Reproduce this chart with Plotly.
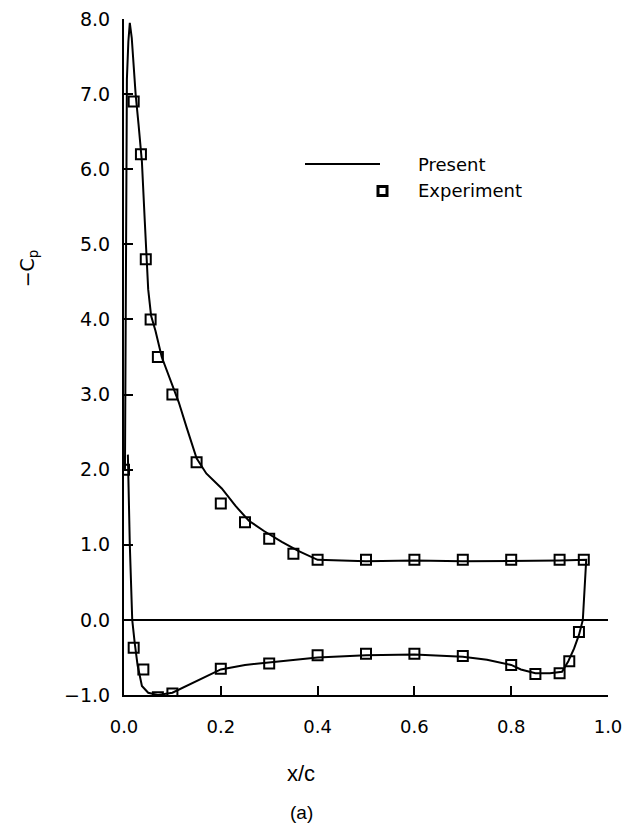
import plotly.graph_objects as go

# Present (computed) -Cp, drawn as one loop: leading edge up to suction peak,
# along upper surface, down the trailing edge, back along lower surface.
present_x = [0.002, 0.003, 0.004, 0.006, 0.009, 0.012, 0.016, 0.020, 0.024, 0.030, 0.037,
             0.043, 0.050, 0.056, 0.065, 0.078, 0.095, 0.113, 0.130, 0.150, 0.170,
             0.190, 0.202, 0.230, 0.258, 0.290, 0.326, 0.360, 0.388, 0.400,
             0.500, 0.600, 0.700, 0.800, 0.900, 0.955,
             0.948, 0.940, 0.930, 0.918, 0.905, 0.880, 0.850, 0.820, 0.800, 0.750,
             0.700, 0.600, 0.500, 0.400, 0.300, 0.250, 0.200, 0.150, 0.100, 0.070,
             0.050, 0.037, 0.028, 0.022, 0.017, 0.012, 0.008]
present_y = [2.0, 4.0, 5.8, 7.2, 7.7, 7.95, 7.75, 7.35, 7.0, 6.6, 6.1,
             5.3, 4.4, 4.05, 3.85, 3.5, 3.2, 2.9, 2.55, 2.15, 1.95,
             1.82, 1.75, 1.52, 1.32, 1.18, 1.04, 0.92, 0.83, 0.80,
             0.78, 0.79, 0.78, 0.78, 0.79, 0.80,
             0.00, -0.20, -0.38, -0.55, -0.69, -0.71, -0.71, -0.66, -0.60, -0.53,
             -0.49, -0.46, -0.47, -0.50, -0.57, -0.60, -0.66, -0.82, -0.97, -1.00,
             -0.97, -0.88, -0.60, -0.30, 0.00, 1.00, 2.20]

# Experiment -Cp
exp_x = [0.0, 0.02, 0.035, 0.045, 0.055, 0.07, 0.10, 0.15, 0.20, 0.25, 0.30, 0.35, 0.40,
         0.50, 0.60, 0.70, 0.80, 0.90, 0.95,
         0.02, 0.04, 0.07, 0.10, 0.20, 0.30, 0.40, 0.50, 0.60, 0.70, 0.80, 0.85,
         0.90, 0.92, 0.94]
exp_y = [2.0, 6.9, 6.2, 4.8, 4.0, 3.5, 3.0, 2.1, 1.55, 1.3, 1.08, 0.88, 0.80,
         0.80, 0.80, 0.80, 0.80, 0.80, 0.80,
         -0.37, -0.66, -1.03, -0.98, -0.65, -0.58, -0.47, -0.45, -0.45, -0.48, -0.60, -0.72,
         -0.71, -0.55, -0.16]

x_ticks = [0.0, 0.2, 0.4, 0.6, 0.8, 1.0]
y_ticks = [-1, 0, 1, 2, 3, 4, 5, 6, 7, 8]

font_main = "DejaVu Sans, Liberation Sans, sans-serif"
font_title = "Liberation Sans, Arial, sans-serif"

fig = go.Figure()
fig.add_trace(go.Scatter(x=present_x, y=present_y, mode="lines",
                         line=dict(color="black", width=2), name="Present",
                         showlegend=False))
fig.add_trace(go.Scatter(x=exp_x, y=exp_y, mode="markers",
                         marker=dict(symbol="square-open", size=10, color="black",
                                     line=dict(width=2, color="black")),
                         name="Experiment", showlegend=False))

# page body has an 8px margin: figure is 614x822 so the page is exactly 630x838
fig.update_layout(
    width=614, height=822,
    margin=dict(l=116, r=14, t=11, b=135, autoexpand=False),
    paper_bgcolor="white", plot_bgcolor="white",
    showlegend=False,
    font=dict(family=font_main, size=18, color="black"),
    xaxis=dict(range=[0, 1.0], tickvals=x_ticks, tickformat=".1f",
               ticks="inside", ticklen=9, tickwidth=2, tickcolor="black",
               showline=True, linewidth=2, linecolor="black", automargin=False,
               showgrid=False, zeroline=False, ticklabelstandoff=14,
               ticklabeloverflow="allow",
               tickfont=dict(family=font_main, size=18, color="black")),
    yaxis=dict(range=[-1.0, 8.0], tickvals=y_ticks, tickformat=".1f",
               ticks="inside", ticklen=9, tickwidth=2, tickcolor="black",
               showline=True, linewidth=2, linecolor="black", automargin=False,
               showgrid=False, zeroline=True, zerolinecolor="black", zerolinewidth=1.5,
               ticklabelstandoff=8, ticklabeloverflow="allow",
               tickfont=dict(family=font_main, size=19, color="black")),
)

# Axis titles
fig.add_annotation(text="−C<sub>p</sub>", textangle=-90, xref="paper", yref="y",
                   x=(28 - 124) / 484, xanchor="center", y=4.68, yanchor="middle",
                   showarrow=False, font=dict(family=font_main, size=19, color="#000000"))
fig.add_annotation(text="x/c", xref="paper", yref="paper", x=(301 - 124) / 484,
                   y=-(773 - 695) / 676, xanchor="center", yanchor="middle",
                   showarrow=False, font=dict(family=font_title, size=22, color="black"))
fig.add_annotation(text="(a)", xref="paper", yref="paper", x=(301 - 124) / 484,
                   y=-(812 - 695) / 676, xanchor="center", yanchor="middle",
                   showarrow=False, font=dict(family=font_title, size=19, color="black"))

# Legend drawn manually
px = lambda p: (p - 124) / 484
py = lambda p: (695 - p) / 676
fig.add_shape(type="line", xref="paper", yref="paper", x0=px(305), x1=px(380),
              y0=py(164), y1=py(164), line=dict(color="black", width=2))
fig.add_shape(type="rect", xref="paper", yref="paper", x0=px(378), x1=px(387),
              y0=py(195.5), y1=py(186.5), line=dict(color="black", width=3),
              fillcolor="white")
fig.add_annotation(text="Present", xref="paper", yref="paper", x=px(416), y=py(164),
                   xanchor="left", yanchor="middle", showarrow=False,
                   font=dict(family=font_main, size=18, color="black"))
fig.add_annotation(text="Experiment", xref="paper", yref="paper", x=px(416), y=py(191),
                   xanchor="left", yanchor="middle", showarrow=False,
                   font=dict(family=font_main, size=18, color="black"))

fig.write_html("out.html")
